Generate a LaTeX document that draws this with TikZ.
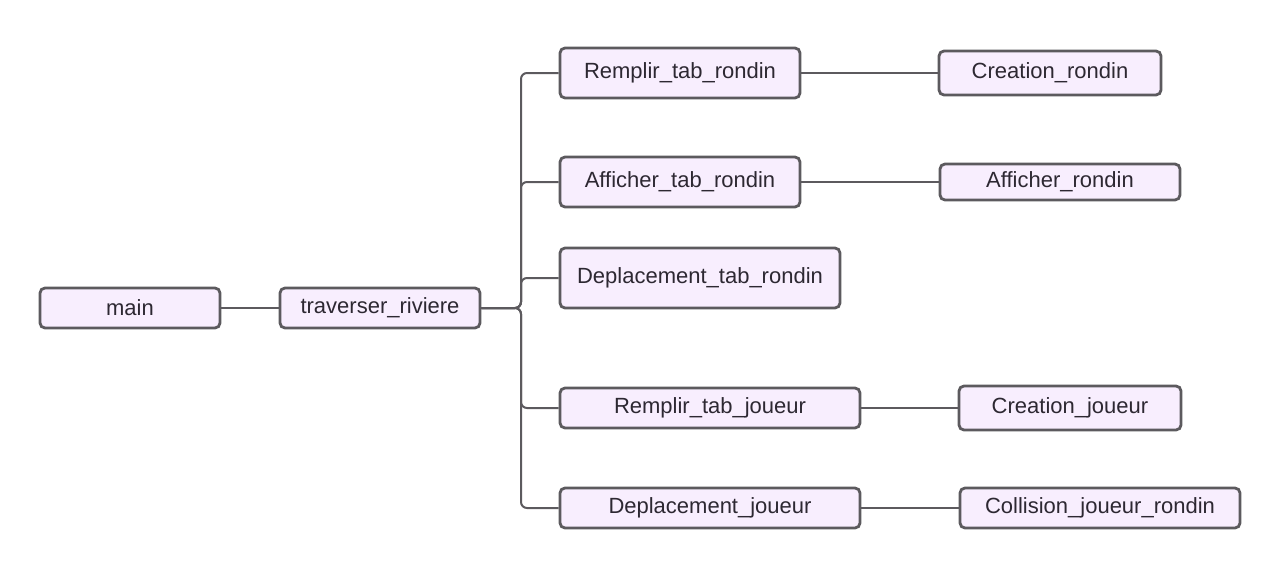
\documentclass[tikz,border=0pt]{standalone}
\usepackage{fontspec}
\setmainfont{Liberation Sans}
\usepackage{tikz}
\usetikzlibrary{calc}
\usetikzlibrary{positioning}
\usepackage{color}
\definecolor{lavender}{RGB}{248, 238, 254}
\definecolor{slate}{RGB}{92, 90, 94}
\definecolor{ink}{RGB}{45, 40, 50}
\tikzset{
    func/.style={draw=slate, fill=lavender, line width=1.4pt, rounded corners=2.5pt,
                 text=ink, font=\fontsize{11}{13}\selectfont, inner sep=0pt, anchor=center},
    link/.style={draw=slate, line width=1pt, rounded corners=3pt}
}
\begin{document}
\begin{tikzpicture}[x=0.5pt, y=-0.5pt]
            \useasboundingbox                                              (0, 0) rectangle (1262, 568);
            \node[func, minimum width=90pt,  minimum height=20pt] (main)   at ( 130, 308) {main};
            \node[func, minimum width=100pt, minimum height=20pt] (trav)   at ( 380, 308) {traverser\_riviere};
            \node[func, minimum width=120pt, minimum height=25pt] (remtr)  at ( 680,  73) {Remplir\_tab\_rondin};
            \node[func, minimum width=120pt, minimum height=25pt] (afftr)  at ( 680, 182) {Afficher\_tab\_rondin};
            \node[func, minimum width=140pt, minimum height=30pt] (deptr)  at ( 700, 278) {Deplacement\_tab\_rondin};
            \node[func, minimum width=150pt, minimum height=20pt] (remtj)  at ( 710, 408) {Remplir\_tab\_joueur};
            \node[func, minimum width=150pt, minimum height=20pt] (depj)   at ( 710, 508) {Deplacement\_joueur};
            \node[func, minimum width=111pt, minimum height=22pt] (creatr) at (1050,  73) {Creation\_rondin};
            \node[func, minimum width=120pt, minimum height=18pt] (affr)   at (1060, 182) {Afficher\_rondin};
            \node[func, minimum width=111pt, minimum height=22pt] (creatj) at (1070, 408) {Creation\_joueur};
            \node[func, minimum width=140pt, minimum height=20pt] (coll)   at (1100, 508) {Collision\_joueur\_rondin};
            \coordinate (fork) at (521, 308);
        % connectors
        \draw[link] (main.east) -- (trav.west);
        \foreach \kid in {remtr, afftr, deptr, remtj, depj}
            \draw[link] (trav.east) -- (fork) |- (\kid.west);
        \draw[link] (remtr.east) -- (creatr.west);
        \draw[link] (afftr.east) -- (affr.west);
        \draw[link] (remtj.east) -- (creatj.west);
        \draw[link] (depj.east)  -- (coll.west);
        \end{tikzpicture}
\end{document}
